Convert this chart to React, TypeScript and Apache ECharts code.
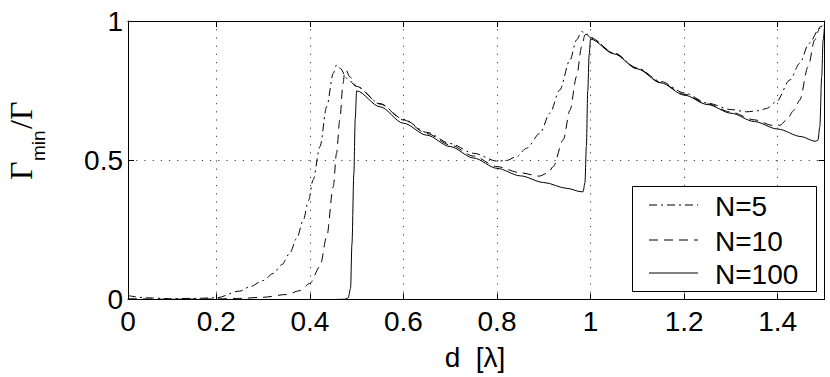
import React, { useEffect, useRef } from "react";
import * as echarts from "echarts";

// axis settings
const X_MIN = 0.0113;
const X_MAX = 1.5;
const X_TICKS = [0.2, 0.4, 0.6, 0.8, 1, 1.2, 1.4];
const Y_TICK_STEP = 0.5;

const SERIES_NAMES = ["N=5", "N=10", "N=100"];

// N=5 (dash-dot)
const N5_X = [0.0113, 0.05, 0.1, 0.15, 0.2, 0.25, 0.272, 0.3, 0.322, 0.34, 0.357, 0.372, 0.386, 0.397, 0.407, 0.4216, 0.436, 0.45, 0.457, 0.465, 0.479, 0.5, 0.55, 0.6, 0.65, 0.7, 0.75, 0.8, 0.82, 0.842, 0.863, 0.892, 0.913, 0.934, 0.956, 0.97, 0.981, 0.99, 1.0, 1.05, 1.1, 1.15, 1.2, 1.25, 1.3, 1.333, 1.36, 1.376, 1.397, 1.426, 1.447, 1.467, 1.49, 1.4985];
const N5_Y = [0.014, 0.006, 0.003, 0.004, 0.006, 0.03, 0.046, 0.068, 0.094, 0.125, 0.166, 0.22, 0.285, 0.355, 0.43, 0.549, 0.692, 0.812, 0.842, 0.83, 0.794, 0.765, 0.703, 0.647, 0.6, 0.56, 0.525, 0.497, 0.499, 0.513, 0.543, 0.597, 0.669, 0.752, 0.86, 0.932, 0.962, 0.955, 0.94, 0.885, 0.831, 0.783, 0.742, 0.705, 0.682, 0.674, 0.678, 0.686, 0.71, 0.788, 0.848, 0.92, 0.974, 0.986];

// N=10 (dashed)
const N10_X = [0.0113, 0.1, 0.2, 0.25, 0.3, 0.35, 0.38, 0.4, 0.4216, 0.436, 0.45, 0.457, 0.464, 0.471, 0.4745, 0.478, 0.485, 0.5, 0.55, 0.6, 0.65, 0.7, 0.75, 0.8, 0.85, 0.89, 0.91, 0.92, 0.9415, 0.956, 0.97, 0.981, 0.988, 0.993, 1.0, 1.05, 1.1, 1.15, 1.2, 1.25, 1.3, 1.35, 1.39, 1.405, 1.419, 1.435, 1.447, 1.465, 1.479, 1.491, 1.5];
const N10_Y = [0.003, 0.001, 0.002, 0.004, 0.008, 0.018, 0.032, 0.058, 0.118, 0.225, 0.405, 0.525, 0.645, 0.776, 0.818, 0.822, 0.8, 0.765, 0.702, 0.645, 0.596, 0.555, 0.515, 0.477, 0.455, 0.443, 0.455, 0.477, 0.573, 0.68, 0.8, 0.908, 0.95, 0.953, 0.94, 0.884, 0.83, 0.779, 0.737, 0.702, 0.673, 0.645, 0.625, 0.626, 0.645, 0.68, 0.716, 0.836, 0.932, 0.98, 0.985];

// N=100 (solid)
const N100_X = [0.0113, 0.1, 0.2, 0.3, 0.4, 0.45, 0.475, 0.482, 0.487, 0.49, 0.494, 0.497, 0.5, 0.55, 0.6, 0.65, 0.7, 0.75, 0.8, 0.85, 0.9, 0.95, 0.98, 0.984, 0.988, 0.991, 0.994, 0.997, 1.0, 1.05, 1.1, 1.15, 1.2, 1.25, 1.3, 1.35, 1.4, 1.45, 1.48, 1.486, 1.49, 1.494, 1.497, 1.5];
const N100_Y = [0, 0, 0, 0, 0, 0, 0.001, 0.006, 0.04, 0.2, 0.45, 0.65, 0.749, 0.692, 0.633, 0.59, 0.549, 0.508, 0.471, 0.444, 0.42, 0.399, 0.387, 0.387, 0.42, 0.55, 0.75, 0.88, 0.935, 0.882, 0.828, 0.778, 0.734, 0.7, 0.669, 0.639, 0.612, 0.585, 0.568, 0.572, 0.62, 0.8, 0.93, 0.98];

const LINE_DASHES: any[] = [[8, 4, 2, 4], [9, 6], null];

function pairs(xs: number[], ys: number[]) {
  return xs.map((x, i) => [x, ys[i]]);
}

const FONT = "Liberation Sans";
const SERIF = "Liberation Serif";

export default function App() {
  const ref = useRef<HTMLDivElement>(null);
  useEffect(() => {
    document.body.style.margin = "0";
    if (!ref.current) return;
    const chart = echarts.init(ref.current, null, { renderer: "svg" });
    const dataSets = [pairs(N5_X, N5_Y), pairs(N10_X, N10_Y), pairs(N100_X, N100_Y)];
    const axisLine = { show: true, onZero: false, lineStyle: { color: "#000", width: 1 } };
    const tickStyle = { show: true, inside: true, length: 6, lineStyle: { color: "#000", width: 1 } };
    const gridLine = { show: true, lineStyle: { color: "#444", width: 1, type: [1.2, 7] } };

    // legend (box, sample lines, labels)
    const LG = { x: 632.5, y: 186.5, w: 184, h: 105, lineX1: 649, lineX2: 698, textX: 715, rows: [205, 240, 273] };
    const legendGraphics: any[] = [
      { type: "rect", z: 100, shape: { x: LG.x, y: LG.y, width: LG.w, height: LG.h }, style: { fill: "#fff", stroke: "#000", lineWidth: 1 } },
    ];
    SERIES_NAMES.forEach((name, i) => {
      legendGraphics.push({
        type: "line", z: 101,
        shape: { x1: LG.lineX1, y1: LG.rows[i], x2: LG.lineX2, y2: LG.rows[i] },
        style: { stroke: "#000", lineWidth: 1, lineDash: LINE_DASHES[i] || undefined },
      });
      legendGraphics.push({
        type: "text", z: 101, x: LG.textX, y: LG.rows[i] + 1,
        style: { text: name, font: `28px "${FONT}"`, fill: "#000", align: "left", verticalAlign: "middle" },
      });
    });

    const option: any = {
      animation: false,
      backgroundColor: "#fff",
      grid: { left: 128, top: 21, right: 5.5, bottom: 77.5, outerBoundsMode: "none", containLabel: false },
      xAxis: [
        {
          type: "value", min: X_MIN, max: X_MAX, position: "bottom",
          axisLine,
          axisTick: { ...tickStyle, customValues: [X_MIN, ...X_TICKS] },
          axisLabel: {
            customValues: [X_MIN, ...X_TICKS],
            formatter: (v: number) => (v < 0.1 ? "0" : String(v)),
            fontSize: 28, fontFamily: FONT, color: "#000", margin: 8,
          },
          splitLine: gridLine,
        },
        {
          type: "value", min: X_MIN, max: X_MAX, position: "top",
          axisLine,
          axisTick: { ...tickStyle, customValues: X_TICKS },
          axisLabel: { show: false },
          splitLine: { show: false },
        },
      ],
      yAxis: [
        {
          type: "value", min: 0, max: 1, interval: Y_TICK_STEP, position: "left",
          axisLine,
          axisTick: tickStyle,
          axisLabel: { fontSize: 28, fontFamily: FONT, color: "#000", margin: 5, formatter: (v: number) => String(v) },
          splitLine: gridLine,
        },
        {
          type: "value", min: 0, max: 1, interval: Y_TICK_STEP, position: "right",
          axisLine,
          axisTick: tickStyle,
          axisLabel: { show: false },
          splitLine: { show: false },
        },
      ],
      series: SERIES_NAMES.map((name, i) => ({
        name, type: "line", data: dataSets[i],
        xAxisIndex: 0, yAxisIndex: 0,
        symbol: "none", showSymbol: false,
        smooth: 0.3, smoothMonotone: "x",
        lineStyle: { color: "#000", width: 1, type: LINE_DASHES[i] || "solid" },
        itemStyle: { color: "#000" },
        z: 3,
      })),
      graphic: [
        { type: "text", x: 475, y: 357, style: { text: "d  [λ]", font: `28px "${FONT}"`, fill: "#000", align: "center", verticalAlign: "middle" } },
        { type: "text", x: 21, y: 180, rotation: Math.PI / 2, style: { text: "Γ", font: `32px "${SERIF}"`, fill: "#000", align: "left", verticalAlign: "middle" } },
        { type: "text", x: 38.4, y: 161, rotation: Math.PI / 2, style: { text: "min", font: `19px "${FONT}"`, fill: "#000", align: "left", verticalAlign: "middle" } },
        { type: "text", x: 21, y: 129, rotation: Math.PI / 2, style: { text: "/Γ", font: `32px "${SERIF}"`, fill: "#000", align: "left", verticalAlign: "middle" } },
        ...legendGraphics,
      ],
    };
    chart.setOption(option);
    return () => chart.dispose();
  }, []);
  return <div ref={ref} style={{ width: 830, height: 377 }} />;
}
